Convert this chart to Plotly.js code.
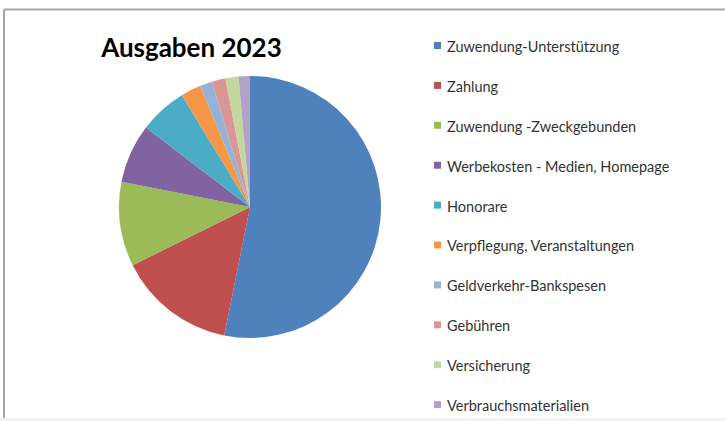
<!DOCTYPE html>
<html>
<head>
<meta charset="utf-8">
<script src="https://cdn.plot.ly/plotly-3.0.1.min.js"></script>
<style>
html,body{margin:0;padding:0;background:#ffffff;}
#chart{width:725px;height:421px;}
</style>
</head>
<body>
<div id="chart"></div>
<script>
// Data (share of total, %)
const categories = [
  "Zuwendung-Unterstützung",
  "Zahlung",
  "Zuwendung -Zweckgebunden",
  "Werbekosten - Medien, Homepage",
  "Honorare",
  "Verpflegung, Veranstaltungen",
  "Geldverkehr-Bankspesen",
  "Gebühren",
  "Versicherung",
  "Verbrauchsmaterialien"
];
const values = [53.1, 14.5, 10.4, 7.3, 5.9, 2.5, 1.5, 1.7, 1.6, 1.4];
const colors = ["#4F81BD", "#C0504D", "#9BBB59", "#8064A2", "#4BACC6",
                "#F79646", "#95B3D7", "#D99694", "#C3D69B", "#B3A2C7"];
const chartTitle = "Ausgaben 2023";

const W = 725, H = 421;
const px = x => x / W;
const py = y => 1 - y / H;

const trace = {
  type: "pie",
  labels: categories,
  values: values,
  sort: false,
  direction: "clockwise",
  rotation: 0,
  textinfo: "none",
  hoverinfo: "label+percent",
  marker: {colors: colors, line: {width: 0}},
  showlegend: false,
  domain: {x: [px(250 - 131), px(250 + 131)], y: [py(207 + 131), py(207 - 131)]}
};

// Legend drawn as annotations + square shapes built from the arrays
const legendTop = 46.5, legendStep = 39.9;
const annotations = categories.map((c, i) => ({
  xref: "paper", yref: "paper",
  x: px(445), y: py(legendTop + i * legendStep),
  xanchor: "left", yanchor: "middle",
  text: c, showarrow: false,
  font: {family: "Lato, 'Open Sans', sans-serif", size: 14.5, color: "#333333"}
}));
const shapes = colors.map((col, i) => {
  const cy = legendTop - 1 + i * legendStep;
  return {type: "rect", xref: "paper", yref: "paper",
    x0: px(434), x1: px(441), y0: py(cy + 3.5), y1: py(cy - 3.5),
    fillcolor: col, line: {width: 0}};
});
// outer frame (top + left edge of the screenshot frame)
shapes.push({type: "line", xref: "paper", yref: "paper", x0: px(4), x1: 1, y0: py(9.5), y1: py(9.5),
  line: {color: "#a6a6a6", width: 2}});
shapes.push({type: "line", xref: "paper", yref: "paper", x0: px(4), x1: px(4), y0: py(9.5), y1: py(418),
  line: {color: "#a6a6a6", width: 2}});
shapes.push({type: "rect", xref: "paper", yref: "paper", x0: 0, x1: 1, y0: 0, y1: py(418),
  fillcolor: "#f3f3f3", line: {width: 0}});

const layout = {
  width: W, height: H,
  margin: {l: 0, r: 0, t: 0, b: 0},
  paper_bgcolor: "#ffffff",
  title: {
    text: "<b>" + chartTitle + "</b>",
    x: px(191.5), xanchor: "center",
    y: py(48), yanchor: "middle",
    font: {family: "Lato, 'Open Sans', sans-serif", size: 26, color: "#000000"}
  },
  annotations: annotations,
  shapes: shapes
};

Plotly.newPlot("chart", [trace], layout, {displayModeBar: false, staticPlot: false});
</script>
</body>
</html>
